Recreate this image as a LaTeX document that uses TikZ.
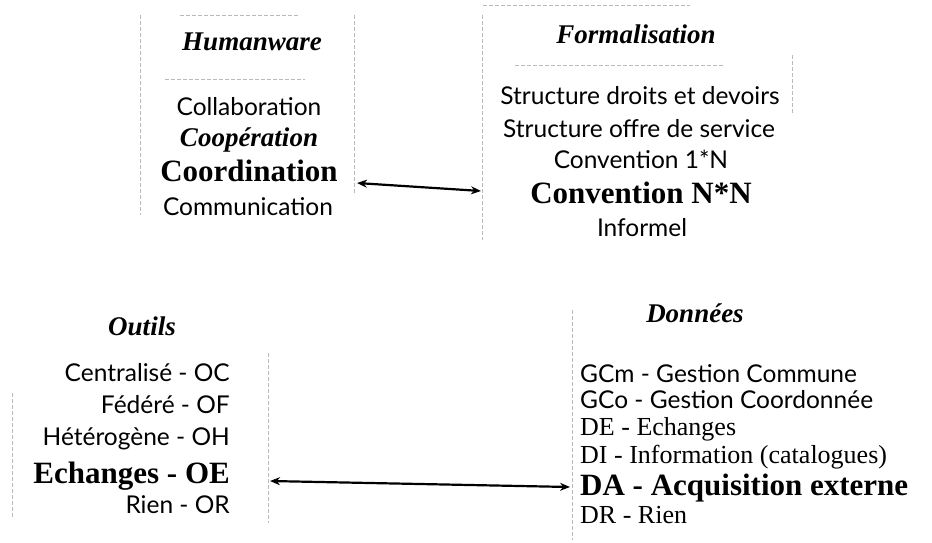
\documentclass[tikz,border=0pt]{standalone}
\usepackage{fontspec}
\setmainfont{Liberation Serif}
\newfontfamily\optima{Lato}
\usetikzlibrary{arrows.meta}

\tikzset{
  titre/.style={font=\fontsize{27}{30}\selectfont\bfseries\itshape, anchor=base, inner sep=0pt},
  sans/.style={font=\fontsize{24.5}{28}\selectfont\optima, anchor=base, inner sep=0pt},
  serif/.style={font=\fontsize{26}{28}\selectfont, anchor=base, inner sep=0pt},
  fort/.style={font=\fontsize{31}{33}\selectfont\bfseries, anchor=base, inner sep=0pt},
  cadre/.style={gray!55, thin, dash pattern=on 4pt off 2pt},
  lien/.style={<->, >={Stealth[length=10pt,width=8pt]}, line width=2.2pt},
}

\begin{document}
\begin{tikzpicture}[x=1pt,y=-1pt]
  \useasboundingbox (0,0) rectangle (932,542);

  % Humanware
  \draw[cadre] (140,15) -- (140,215);
  \draw[cadre] (354,15) -- (354,195);
  \draw[cadre] (180,15) -- (300,15);
  \draw[cadre] (165,79) -- (305,79);
  \node[titre] (human) at (252,50) {Humanware};
  \node[sans] (collab) at (249,115) {Collaboration};
  \node[titre] (coop) at (249,146) {Coopération};
  \node[fort] (coord) at (249,181) {Coordination};
  \node[sans] (comm) at (248,215) {Communication};

  % Formalisation
  \draw[cadre] (482,15) -- (482,240);
  \draw[cadre] (483,5) -- (690,5);
  \draw[cadre] (515,65) -- (723,65);
  \draw[cadre] (792,55) -- (792,115);
  \node[titre] (formal) at (636,43) {Formalisation};
  \node[sans] (droits) at (640,104) {Structure droits et devoirs};
  \node[sans] (offre) at (639,137) {Structure offre de service};
  \node[sans] (conv1) at (641,168) {Convention 1*N};
  \node[fort] (convN) at (641,203) {Convention N*N};
  \node[sans] (inform) at (642,236) {Informel};

  % Outils
  \draw[cadre] (12,393) -- (12,517);
  \draw[cadre] (268,353) -- (268,523);
  \node[titre] (outils) at (142,335) {Outils};
  \node[sans, anchor=base east] (oc) at (230,381) {Centralisé - OC};
  \node[sans, anchor=base east] (of) at (230,413) {Fédéré - OF};
  \node[sans, anchor=base east] (oh) at (230,445) {Hétérogène - OH};
  \node[fort, anchor=base east] (oe) at (230,483) {Echanges - OE};
  \node[sans, anchor=base east] (or) at (230,513) {Rien - OR};

  % Donnees
  \draw[cadre] (572,310) -- (572,540);
  \node[titre] (donnees) at (695,322) {Données};
  \node[sans, anchor=base west] (gcm) at (580,382) {GCm - Gestion Commune};
  \node[sans, anchor=base west] (gco) at (580,408) {GCo - Gestion Coordonnée};
  \node[serif, anchor=base west] (de) at (580,435) {DE - Echanges};
  \node[serif, anchor=base west] (di) at (580,463) {DI - Information (catalogues)};
  \node[fort, anchor=base west] (da) at (580,495) {DA - Acquisition externe};
  \node[serif, anchor=base west] (dr) at (580,523) {DR - Rien};

  % liens
  \coordinate (hw) at (357,183);
  \coordinate (fo) at (481,191);
  \coordinate (ou) at (270,481);
  \coordinate (do) at (570,487);
  \draw[lien] (hw) -- (fo);
  \draw[lien] (ou) -- (do);
\end{tikzpicture}
\end{document}
